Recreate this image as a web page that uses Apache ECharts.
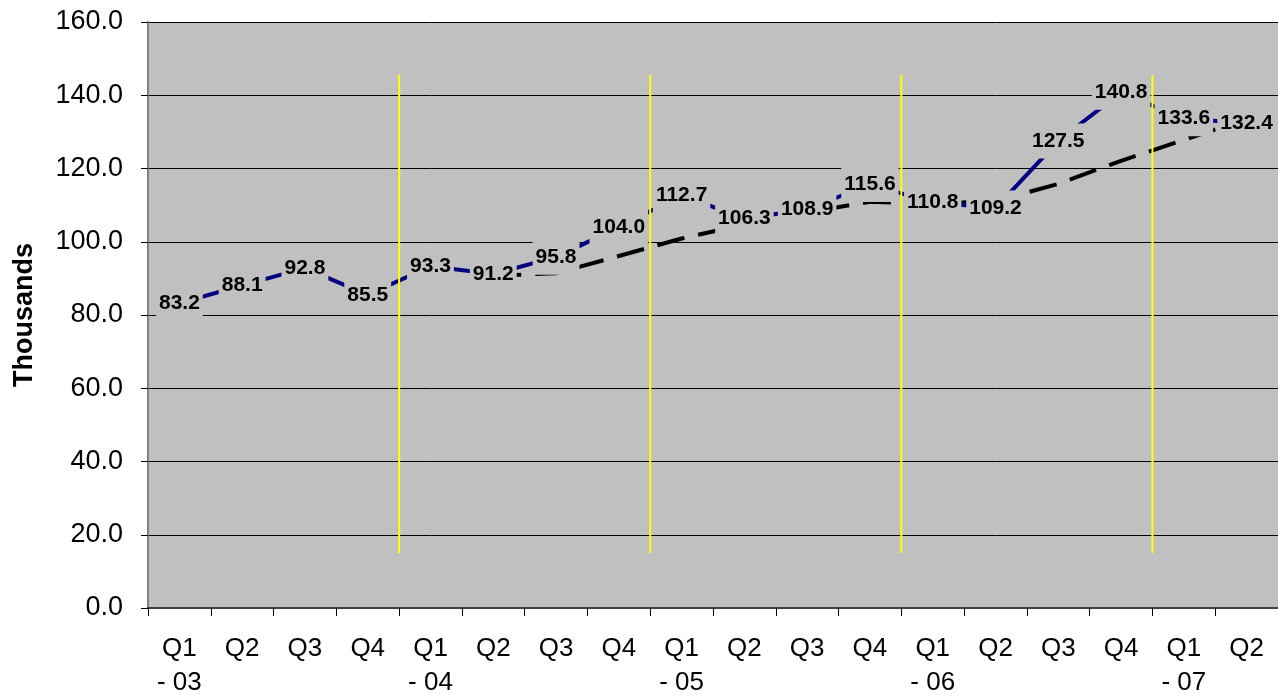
<!DOCTYPE html>
<html>
<head>
<meta charset="utf-8">
<script src="https://cdn.jsdelivr.net/npm/echarts@6/dist/echarts.min.js"></script>
<style>
html,body{margin:0;padding:0;background:#fff;}
#c{width:1278px;height:700px;}
</style>
</head>
<body>
<div id="c"></div>
<script>
var categories = ["Q1\n- 03","Q2","Q3","Q4","Q1\n- 04","Q2","Q3","Q4","Q1\n- 05","Q2","Q3","Q4","Q1\n- 06","Q2","Q3","Q4","Q1\n- 07","Q2"];
var actual = [83.2,88.1,92.8,85.5,93.3,91.2,95.8,104.0,112.7,106.3,108.9,115.6,110.8,109.2,127.5,140.8,133.6,132.4];
var trend = [null,null,null,null,null,90.7,91.4,96.1,100.9,104.7,108.0,110.9,110.4,111.1,115.8,122.1,127.8,133.6];
var yearStarts = [4,8,12,16];
var yellowRange = [15,145.5];
var yTicks = [0,20,40,60,80,100,120,140,160];

var FONT = 'Liberation Sans, Arial, sans-serif';

var yellowSeries = yearStarts.map(function(x){
  return {
    type:'line', xAxisIndex:1, yAxisIndex:0, silent:true, z:4,
    symbol:'none',
    lineStyle:{color:'#FFFF00', width:2},
    data:[[x,yellowRange[0]],[x,yellowRange[1]]]
  };
});

var chart = echarts.init(document.getElementById('c'));
chart.setOption({
  animation:false,
  backgroundColor:'#ffffff',
  textStyle:{fontFamily:FONT},
  grid:{left:148,right:0,top:22,bottom:90,show:true,backgroundColor:'#C0C0C0',borderWidth:0},
  xAxis:[{
    type:'category', data:categories, boundaryGap:true,
    axisLine:{show:true,lineStyle:{color:'#404040',width:2}},
    axisTick:{show:true,interval:0,length:8,lineStyle:{color:'#000'}},
    axisLabel:{interval:0,color:'#000',fontSize:26,lineHeight:34,margin:24,fontFamily:FONT},
    splitLine:{show:false}
  },{
    type:'value', min:0, max:18, show:false
  }],
  yAxis:{
    type:'value', min:yTicks[0], max:yTicks[yTicks.length-1], interval:20,
    name:'Thousands', nameLocation:'middle', nameRotate:90, nameGap:110,
    nameTextStyle:{fontSize:27,fontWeight:'bold',color:'#000',fontFamily:FONT},
    axisLine:{show:true,lineStyle:{color:'#808080',width:2}},
    axisTick:{show:true,length:7,lineStyle:{color:'#000'}},
    axisLabel:{color:'#000',fontSize:27,margin:25,formatter:function(v){return v.toFixed(1);},fontFamily:FONT},
    splitLine:{show:true,lineStyle:{color:'#000',width:1}}
  },
  series:[{
    type:'line', name:'trend', data:trend, z:2,
    symbol:'none', connectNulls:false,
    lineStyle:{color:'#000',width:4,type:[28,14],cap:'butt'}
  },{
    type:'line', name:'actual', data:actual, z:3,
    symbol:'circle', symbolSize:1, itemStyle:{color:'#000080'},
    lineStyle:{color:'#000080',width:4},
    label:{show:true,position:'inside',color:'#000',fontSize:21,fontWeight:'bold',
      backgroundColor:'#C0C0C0',padding:[7,3],
      fontFamily:FONT,
      formatter:function(p){return p.value.toFixed(1);}}
  }].concat(yellowSeries)
});
</script>
</body>
</html>
